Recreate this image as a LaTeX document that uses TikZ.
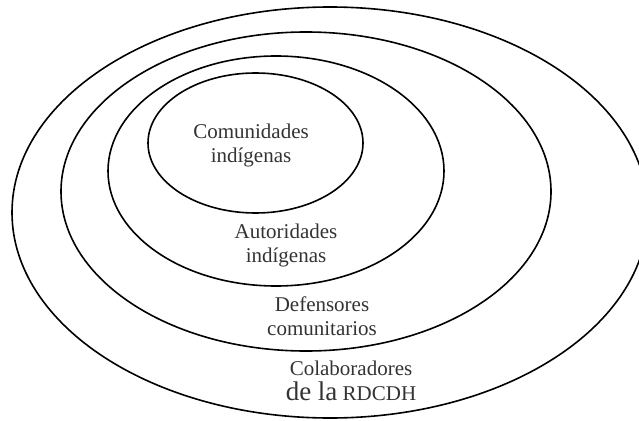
\documentclass[tikz,border=0pt]{standalone}
\usepackage{fontspec}
\setmainfont{Liberation Serif}

\begin{document}
\begin{tikzpicture}[x=1pt,y=-1pt,
    ring/.style={line width=1.6pt},
    lbl/.style={align=center, text=black!80, font=\fontsize{21}{24}\selectfont}]
            \useasboundingbox (0,0) rectangle (639,420);

            % nested groups
            \draw[ring] (330,212.5) ellipse [x radius=318, y radius=205.5];
            \draw[ring] (306,191.5) ellipse [x radius=245, y radius=159.5];
            \draw[ring] (276,171) ellipse [x radius=168, y radius=115];
            \draw[ring] (255.5,143) ellipse [x radius=107.5, y radius=70];

            \node[lbl] (comunidades) at (251,145) {Comunidades\\indígenas};
            \node[lbl] (autoridades) at (286,245) {Autoridades\\indígenas};
            \node[lbl] (defensores) at (322,316.5) {Defensores\\comunitarios};
            \node[lbl] (colaboradores) at (351,381) {Colaboradores\\[1pt]{\fontsize{27}{28}\selectfont de la} RDCDH};
        \end{tikzpicture}
\end{document}
